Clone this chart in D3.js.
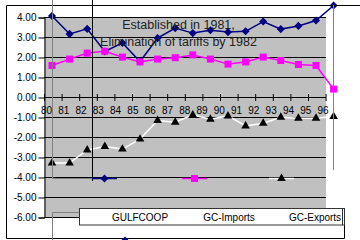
<!DOCTYPE html>
<html>
<head>
<meta charset="utf-8">
<script src="https://cdn.jsdelivr.net/npm/d3@7"></script>
<style>
body { margin: 0; background: #fff; }
svg { display: block; font-family: "Liberation Sans", Arial, sans-serif; }
</style>
</head>
<body>
<script>
// Chart data
var years = ["80", "81", "82", "83", "84", "85", "86", "87", "88",
             "89", "90", "91", "92", "93", "94", "95", "96"];
var gulfcoop = [4.08, 3.18, 3.43, 2.3, 2.73, 1.8, 2.97, 3.47, 3.22,
                3.36, 3.27, 3.31, 3.8, 3.42, 3.58, 3.85, 4.6];
var gcImports = [1.6, 1.92, 2.22, 2.31, 2.02, 1.78, 1.92, 1.99, 2.13,
                 1.92, 1.67, 1.78, 2.02, 1.85, 1.65, 1.6, 0.42];
var gcExports = [-3.28, -3.28, -2.62, -2.45, -2.58, -2.08, -1.15, -1.24, -0.87,
                 -1.09, -0.92, -1.42, -1.29, -0.99, -1.04, -1.04, -0.95];
var yTicks = [4, 3, 2, 1, 0, -1, -2, -3, -4, -5, -6];
var seriesNames = ["GULFCOOP", "GC-Imports", "GC-Exports"];
var noteLines = ["Established in 1981,", "Elimination of tariffs by 1982"];

var width = 360, height = 240;

// Scales
var x = d3.scalePoint().domain(years).range([52, 333.6]);
var xTick = d3.scalePoint().domain(years).range([44, 325.6]);
var xLabel = d3.scalePoint().domain(years).range([46, 322.5]);
var y = d3.scaleLinear().domain([-6, 4]).range([217.5, 17.5]);

var svg = d3.select("body").append("svg")
    .attr("width", width)
    .attr("height", height);

// Gray plot area
svg.append("rect")
    .attr("x", 44)
    .attr("y", y(4))
    .attr("width", 282)
    .attr("height", y(-6) - y(4))
    .attr("fill", "#c0c0c0");

// Gridlines
svg.append("g")
  .selectAll("line")
  .data(yTicks)
  .enter().append("line")
    .attr("x1", 44)
    .attr("x2", 326)
    .attr("y1", function(d) { return y(d); })
    .attr("y2", function(d) { return y(d); })
    .attr("stroke", "#000")
    .attr("stroke-width", 1);

// Y axis
var yAxis = svg.append("g")
    .attr("transform", "translate(44.5,0)")
    .call(d3.axisLeft(y)
      .tickValues(yTicks)
      .tickSize(6)
      .tickPadding(2)
      .tickFormat(function(d) { return d.toFixed(2); }));
yAxis.select(".domain").attr("stroke", "#000");
yAxis.selectAll("text").attr("font-size", "10px").attr("fill", "#000").attr("font-family", null);

// X axis at zero, crossing ticks
var x0 = y(0);
svg.append("g")
    .attr("transform", "translate(0," + x0 + ")")
    .call(d3.axisBottom(xTick).tickSize(3.5).tickSizeOuter(0).tickFormat(""))
    .call(function(g) { g.select(".domain").remove(); });
svg.append("g")
    .attr("transform", "translate(0," + x0 + ")")
    .call(d3.axisTop(xTick).tickSize(3.5).tickSizeOuter(0).tickFormat(""))
    .call(function(g) { g.select(".domain").remove(); });
svg.append("line")
    .attr("x1", 44).attr("x2", 326)
    .attr("y1", x0).attr("y2", x0)
    .attr("stroke", "#000");

var xLab = svg.append("g")
    .attr("transform", "translate(0," + (x0 + 9) + ")")
    .call(d3.axisBottom(xLabel).tickSize(0).tickPadding(0));
xLab.select(".domain").remove();
xLab.selectAll("text").attr("font-size", "10px").attr("fill", "#000").attr("font-family", null);

// Series
var line = d3.line()
    .x(function(d, i) { return x(years[i]); })
    .y(function(d) { return y(d); });

var diamond = d3.symbol().type(d3.symbolDiamond2).size(42);
var square = d3.symbol().type(d3.symbolSquare).size(49);
var triangle = d3.symbol().type(d3.symbolTriangle).size(32);

var series = [
  {values: gulfcoop, color: "#000080", lineColor: "#000080", symbol: diamond},
  {values: gcImports, color: "#ff00ff", lineColor: "#ff00ff", symbol: square},
  {values: gcExports, color: "#000", lineColor: "#fff", symbol: triangle}
];

series.forEach(function(s) {
  svg.append("path")
      .datum(s.values)
      .attr("fill", "none")
      .attr("stroke", s.lineColor)
      .attr("stroke-width", 1.5)
      .attr("d", line);
  svg.append("g")
    .selectAll("path")
    .data(s.values)
    .enter().append("path")
      .attr("transform", function(d, i) {
        return "translate(" + x(years[i]) + "," + y(d) + ")";
      })
      .attr("fill", s.color)
      .attr("d", s.symbol);
});

// Annotation
svg.append("g")
  .selectAll("text")
  .data(noteLines)
  .enter().append("text")
    .attr("x", 178.5)
    .attr("y", function(d, i) { return 28.5 + i * 17.5; })
    .attr("text-anchor", "middle")
    .attr("font-size", "12.5px")
    .attr("fill", "#222")
    .text(function(d) { return d; });

// Stray frame lines left by the chart object
svg.append("path")
    .attr("d", "M6.5,238.5V5.5H360M6.5,238.5H344.5V225")
    .attr("fill", "none").attr("stroke", "#000");
svg.append("path")
    .attr("d", "M52.5,0V178.5H92M52.5,240V212.5H79M333.5,5V170")
    .attr("fill", "none").attr("stroke", "#808080");
svg.append("path")
    .attr("d", "M92.5,0V181")
    .attr("fill", "none").attr("stroke", "#000");

// Legend box
svg.append("rect")
    .attr("x", 79.5).attr("y", 208.5)
    .attr("width", 265).attr("height", 16.5)
    .attr("fill", "#fff")
    .attr("stroke", "#333");
svg.append("line")
    .attr("x1", 342.5).attr("x2", 342.5)
    .attr("y1", 208.5).attr("y2", 225)
    .attr("stroke", "#333");

var legendX = [140, 229, 315];
svg.append("g")
  .selectAll("text")
  .data(seriesNames)
  .enter().append("text")
    .attr("x", function(d, i) { return legendX[i]; })
    .attr("y", 220.5)
    .attr("text-anchor", "middle")
    .attr("font-size", "10px")
    .attr("fill", "#000")
    .text(function(d) { return d; });

// Legend samples, displaced into the plot
var sampleX = [104.5, 194.5, 281.5];
series.forEach(function(s, i) {
  var g = svg.append("g")
      .attr("transform", "translate(" + sampleX[i] + "," + 178.5 + ")");
  g.append("line")
      .attr("x1", -12.5).attr("x2", 12.5)
      .attr("stroke", s.lineColor)
      .attr("stroke-width", 1.5);
  g.append("path")
      .attr("fill", s.color)
      .attr("d", s.symbol);
});

// Stray marker at the bottom edge
svg.append("path")
    .attr("transform", "translate(125,240.5)")
    .attr("fill", "#000080")
    .attr("d", diamond);
</script>
</body>
</html>
